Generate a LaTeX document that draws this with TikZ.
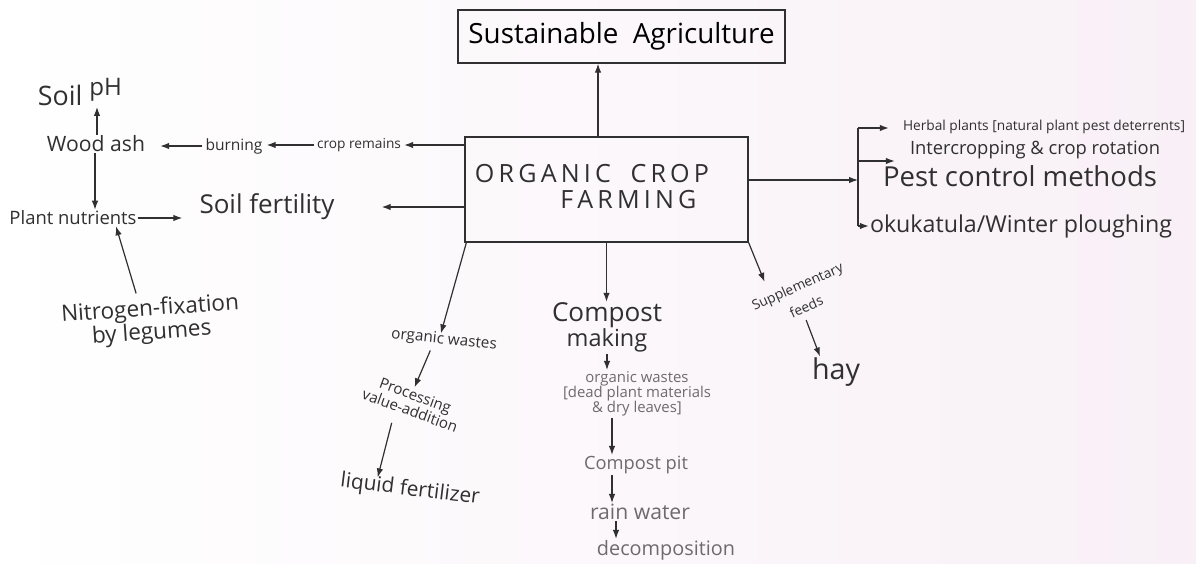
\documentclass[tikz,border=0pt]{standalone}
\usepackage{fontspec}
\setmainfont{Open Sans}
\usepackage{graphicx}
\usetikzlibrary{arrows.meta}
\definecolor{ink}{HTML}{303030}
\definecolor{pale}{HTML}{6E6A6E}
\definecolor{paper}{HTML}{F8F0F6}
% scale a label to a given width (in pt)
\newcommand{\fw}[2]{\resizebox{#1pt}{!}{#2}}
\newcommand{\stk}[1]{\begin{tabular}{@{}c@{}}#1\end{tabular}}
\newcommand{\stkl}[1]{\begin{tabular}{@{}l@{}}#1\end{tabular}}
\begin{document}
\begin{tikzpicture}[x=1pt,y=-1pt,
  lbl/.style={inner sep=1pt, text=ink},
  faint/.style={inner sep=1pt, text=pale},
  frame/.style={draw=ink, line width=1.3pt, inner sep=0pt},
  arr/.style={draw=ink, line width=1.2pt, -{Latex[length=9pt,width=6.5pt]}},
  ln/.style={draw=ink, line width=1.2pt}]

\shade[left color=white, right color=paper] (0,0) rectangle (1196,563);
\useasboundingbox (0,0) rectangle (1196,563);

% main boxes
\node[frame, minimum width=327pt, minimum height=53pt] (sust) at (621.5,36.5)
  {\fw{306}{Sustainable\ \ Agriculture}};
\node[frame, minimum width=283pt, minimum height=105pt] (ocf) at (606.5,189.5) {};
\node[lbl] (ocft) at (592,190)
  {\fw{234}{\fontsize{10}{10}\selectfont\stkl{O\,R\,G\,A\,N\,I\,C\ \ \ C\,R\,O\,P\\\hspace{34pt}F\,A\,R\,M\,I\,N\,G}}};

% left branch
\node[lbl] (crop) at (359,145) {\fw{84}{crop remains}};
\node[lbl] (burn) at (234,146) {\fw{57}{burning}};
\node[lbl] (ash) at (96,144) {\fw{98}{Wood ash}};
\node[lbl] (ph) at (80,92) {\fw{84}{Soil \raisebox{0.7ex}{\small pH}}};
\node[lbl] (nutr) at (73,218) {\fw{127}{Plant nutrients}};
\node[lbl] (fert) at (267,207) {\fw{135}{Soil fertility}};
\node[lbl, rotate=4] (nitro) at (151,322)
  {\fw{178}{\fontsize{10}{9.5}\selectfont\stk{Nitrogen-fixation\\by legumes}}};

% lower branches
\node[lbl, rotate=-6] (ow1) at (444,340) {\fw{106}{organic wastes}};
\node[lbl, rotate=-20] (proc) at (412,405)
  {\fw{100}{\fontsize{10}{10}\selectfont\stk{Processing\\value-addition}}};
\node[lbl, rotate=-7] (liq) at (410,490) {\fw{140}{liquid fertilizer}};

\node[lbl] (comp) at (607,328)
  {\fw{110}{\fontsize{10}{8.5}\selectfont\stk{Compost\\{\small making}}}};
\node[faint] (ow2) at (637,394)
  {\fw{148}{\fontsize{10}{9}\selectfont\stk{organic wastes\\{[}dead plant materials\\\& dry leaves{]}}}};
\node[faint] (pit) at (636,465) {\fw{104}{Compost pit}};
\node[faint] (rain) at (640,512) {\fw{100}{rain water}};
\node[faint] (decomp) at (666,550) {\fw{138}{decomposition}};

\node[lbl, rotate=24] (supp) at (802,297)
  {\fw{98}{\fontsize{10}{16}\selectfont\stk{Supplementary\\feeds}}};
\node[lbl] (hay) at (836,372) {\fw{48}{hay}};

% right branch
\node[lbl] (herb) at (1044,127)
  {\fw{282}{Herbal plants [natural plant pest deterrents]}};
\node[lbl] (inter) at (1035,150) {\fw{250}{Intercropping \& crop rotation}};
\node[lbl] (pest) at (1020,176) {\fw{274}{Pest control methods}};
\node[lbl] (okuk) at (1021,226) {\fw{302}{okukatula/Winter ploughing}};

\coordinate (brtop) at (858,128);
\coordinate (brint) at (858,161);
\coordinate (brmid) at (858,180);
\coordinate (brbot) at (858,226);
\coordinate (colA) at (612,0);
\coordinate (colB) at (616,0);

% connectors
\draw[arr] ([xshift=-8.5pt]ocf.north) -- ([xshift=-8.5pt]ocf.north |- sust.south);

\draw[arr, shorten >=2pt] (ocf.west |- crop.east) -- (crop.east);
\draw[arr, shorten <=2pt, shorten >=3pt] (crop.west) -- (burn.east |- crop.west);
\draw[arr, shorten <=2pt, shorten >=14pt] (burn.west) -- (ash.east |- burn.west);
\draw[arr] ([xshift=1pt]ash.north) -- ([xshift=1pt]ash.north |- ph.south);
\draw[arr] ([xshift=-1pt]ash.south) -- ([xshift=-1pt]ash.south |- nutr.north);
\draw[arr, shorten >=16pt] (nutr.east) -- (nutr.east -| fert.west);
\draw[arr, shorten >=46pt] (ocf.west |- fert.east) -- (fert.east);
\draw[arr, shorten <=4pt] ([xshift=-12pt]nitro.north) -- ([xshift=43pt]nutr.south);

\draw[arr] ([xshift=2pt]ocf.south west) -- ([xshift=-4pt,yshift=-2pt]ow1.north);
\draw[arr, shorten <=2pt, shorten >=2pt] ([xshift=-12pt]ow1.south) -- ([xshift=-4pt]proc.north);
\draw[arr, shorten <=2pt, shorten >=1pt] ([xshift=-14pt]proc.south) -- ([xshift=-34pt]liq.north);

\draw[arr] (ocf.south) -- (ocf.south |- comp.north);
\draw[arr] (comp.south) -- (comp.south |- ow2.north);
\draw[arr] (ow2.south -| colA) -- (pit.north -| colA);
\draw[arr] (pit.south -| colA) -- (rain.north -| colA);
\draw[arr] (rain.south -| colB) -- (decomp.north -| colB);

\draw[arr] (ocf.south east) -- ([xshift=-28pt,yshift=-6pt]supp.north);
\draw[arr, shorten <=2pt] ([xshift=-6pt]supp.south) -- ([xshift=-16pt]hay.north);

\draw[arr] (ocf.east |- brmid) -- (brmid);
\draw[ln] (brtop) -- (brbot);
\draw[arr, shorten >=13pt] (brtop) -- (brtop -| herb.west);
\draw[arr, shorten >=14pt] (brint) -- (brint -| inter.west);
\draw[arr] (brbot) -- (okuk.west);
\end{tikzpicture}
\end{document}
